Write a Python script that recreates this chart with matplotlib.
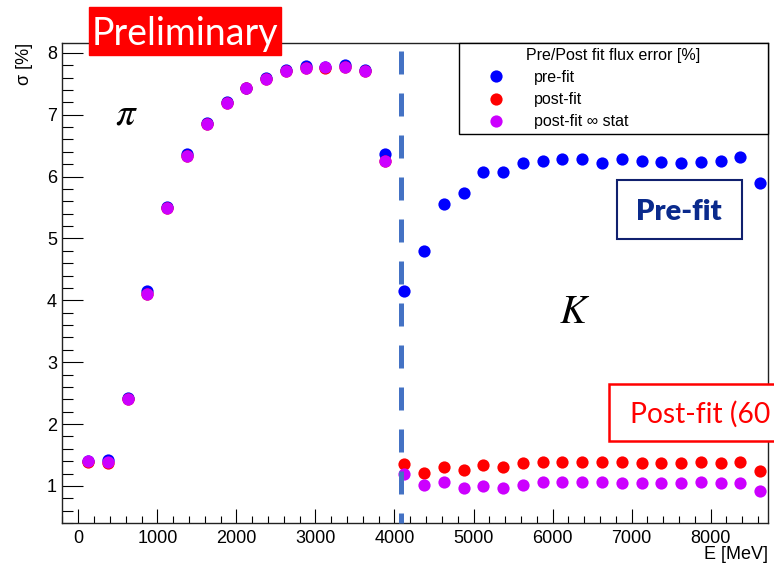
import matplotlib
matplotlib.use('Agg')
import matplotlib.pyplot as plt
from matplotlib.lines import Line2D
from matplotlib.patches import Rectangle
from matplotlib.ticker import MultipleLocator

# energy bin centres [MeV]
e_pi = [125, 375, 625, 875, 1125, 1375, 1625, 1875, 2125, 2375, 2625, 2875,
        3125, 3375, 3625, 3875]
e_k = [4125, 4375, 4625, 4875, 5125, 5375, 5625, 5875, 6125, 6375, 6625,
       6875, 7125, 7375, 7625, 7875, 8125, 8375, 8625]

# pion region
pre_pi = [1.41, 1.42, 2.42, 4.15, 5.51, 6.36, 6.87, 7.21, 7.44, 7.60, 7.73,
          7.79, 7.78, 7.81, 7.72, 6.37]
post_pi = [1.39, 1.37, 2.40, 4.10, 5.49, 6.34, 6.85, 7.19, 7.43, 7.57, 7.70,
           7.76, 7.76, 7.78, 7.70, 6.25]
stat_pi = [1.40, 1.39, 2.40, 4.10, 5.49, 6.34, 6.85, 7.19, 7.44, 7.57, 7.70,
           7.76, 7.77, 7.78, 7.70, 6.25]

# kaon region
pre_k = [4.15, 4.79, 5.55, 5.73, 6.08, 6.07, 6.22, 6.26, 6.28, 6.28, 6.22,
         6.28, 6.26, 6.24, 6.22, 6.23, 6.26, 6.32, 5.89]
post_k = [1.35, 1.21, 1.30, 1.26, 1.33, 1.30, 1.37, 1.39, 1.39, 1.39, 1.39,
          1.39, 1.37, 1.37, 1.37, 1.39, 1.37, 1.39, 1.24]
stat_k = [1.20, 1.02, 1.06, 0.96, 1.00, 0.96, 1.02, 1.06, 1.06, 1.06, 1.06,
          1.04, 1.04, 1.04, 1.04, 1.06, 1.04, 1.04, 0.91]

pi_k_boundary = 4085

plt.rcParams['font.family'] = ['Liberation Sans', 'DejaVu Sans']
plt.rcParams['mathtext.fontset'] = 'stix'

W, H = 774, 564
fig = plt.figure(figsize=(W / 100, H / 100), dpi=100)
ax = fig.add_axes([62 / W, 1 - 523 / H, 706 / W, 480 / H])

BLUE = '#0000ff'
RED = '#ff0000'
VIOLET = '#cc00ff'
ms = 8.8

for xs, ys, c in [(e_pi, pre_pi, BLUE), (e_k, pre_k, BLUE),
                  (e_pi, post_pi, RED), (e_k, post_k, RED),
                  (e_pi, stat_pi, VIOLET), (e_k, stat_k, VIOLET)]:
    ax.plot(xs, ys, 'o', color=c, ms=ms, mec='none', zorder=3)

# pi / K separation
ax.plot([pi_k_boundary, pi_k_boundary], [8.03, 0.4], color='#4472c4', lw=3.6,
        dashes=(4.6, 3.8), dash_capstyle='butt', zorder=5, clip_on=False)

ax.set_xlim(-206, 8725)
ax.set_ylim(0.4, 8.16)
ax.xaxis.set_major_locator(MultipleLocator(1000))
ax.xaxis.set_minor_locator(MultipleLocator(200))
ax.yaxis.set_major_locator(MultipleLocator(1))
ax.yaxis.set_minor_locator(MultipleLocator(0.2))
ax.tick_params(axis='both', which='both', direction='in', width=0.8,
               labelsize=13, top=False, right=False)
ax.tick_params(axis='y', which='major', length=15, pad=3.6)
ax.tick_params(axis='y', which='minor', length=8)
ax.tick_params(axis='x', which='major', length=10, pad=5)
ax.tick_params(axis='x', which='minor', length=5)
for s in ax.spines.values():
    s.set_linewidth(1.0)
    s.set_color('#222222')

fig.text(24.5 / W, 1 - 43 / H, 'σ [%]', rotation=90, ha='center', va='top',
         fontsize=13)
fig.text(768 / W, 1 - 563 / H, 'E [MeV]', ha='right', va='bottom', fontsize=13)

handles = [Line2D([], [], marker='o', ls='none', color=c, ms=ms, mec='none')
           for c in (BLUE, RED, VIOLET)]
leg = ax.legend(handles, ['pre-fit', 'post-fit', 'post-fit ∞ stat'],
                title='Pre/Post fit flux error [%]', loc='upper left',
                bbox_to_anchor=(0.5619, 0, 0.4381, 1.0), mode='expand',
                borderaxespad=0, fontsize=11.5, title_fontsize=11.5,
                handlelength=4.05, handletextpad=0.35, labelspacing=0.45,
                borderpad=0.3, fancybox=False, framealpha=1,
                edgecolor='black')
leg.get_frame().set_linewidth(1.0)
leg.set_zorder(6)

# region labels
ax.text(603, 6.85, r'$\pi$', fontsize=28, ha='center', va='baseline')
ax.text(6283, 3.63, r'$K$', fontsize=29, ha='center', va='baseline')

# Preliminary tag
fig.patches.append(Rectangle((89 / W, 1 - 55 / H), 192 / W, 48 / H,
                             transform=fig.transFigure, color='#ff0000',
                             zorder=10))
fig.text(185 / W, 1 - 45 / H, 'Preliminary', color='white', fontsize=27,
         family='Lato', ha='center', va='baseline', zorder=11)

# Pre-fit box
fig.patches.append(Rectangle((617 / W, 1 - 239 / H), 125 / W, 59 / H,
                             transform=fig.transFigure, facecolor='white',
                             edgecolor='#10206e', lw=1.5, zorder=10))
fig.text(679 / W, 1 - 220 / H, 'Pre-fit', color='#0a2a8c', fontsize=21,
         family='Lato', weight='heavy', ha='center', va='baseline', zorder=11)

# Post-fit box (runs off the page on the right)
fig.patches.append(Rectangle((608.5 / W, 1 - 441 / H), 200 / W, 57 / H,
                             transform=fig.transFigure, facecolor='white',
                             edgecolor='#ff0000', lw=1.8, zorder=10))
fig.text(630 / W, 1 - 423 / H, 'Post-fit (60', color='#ff0000', fontsize=20.3,
         family='Lato', ha='left', va='baseline', zorder=11)

fig.savefig('out.png', dpi=100)
